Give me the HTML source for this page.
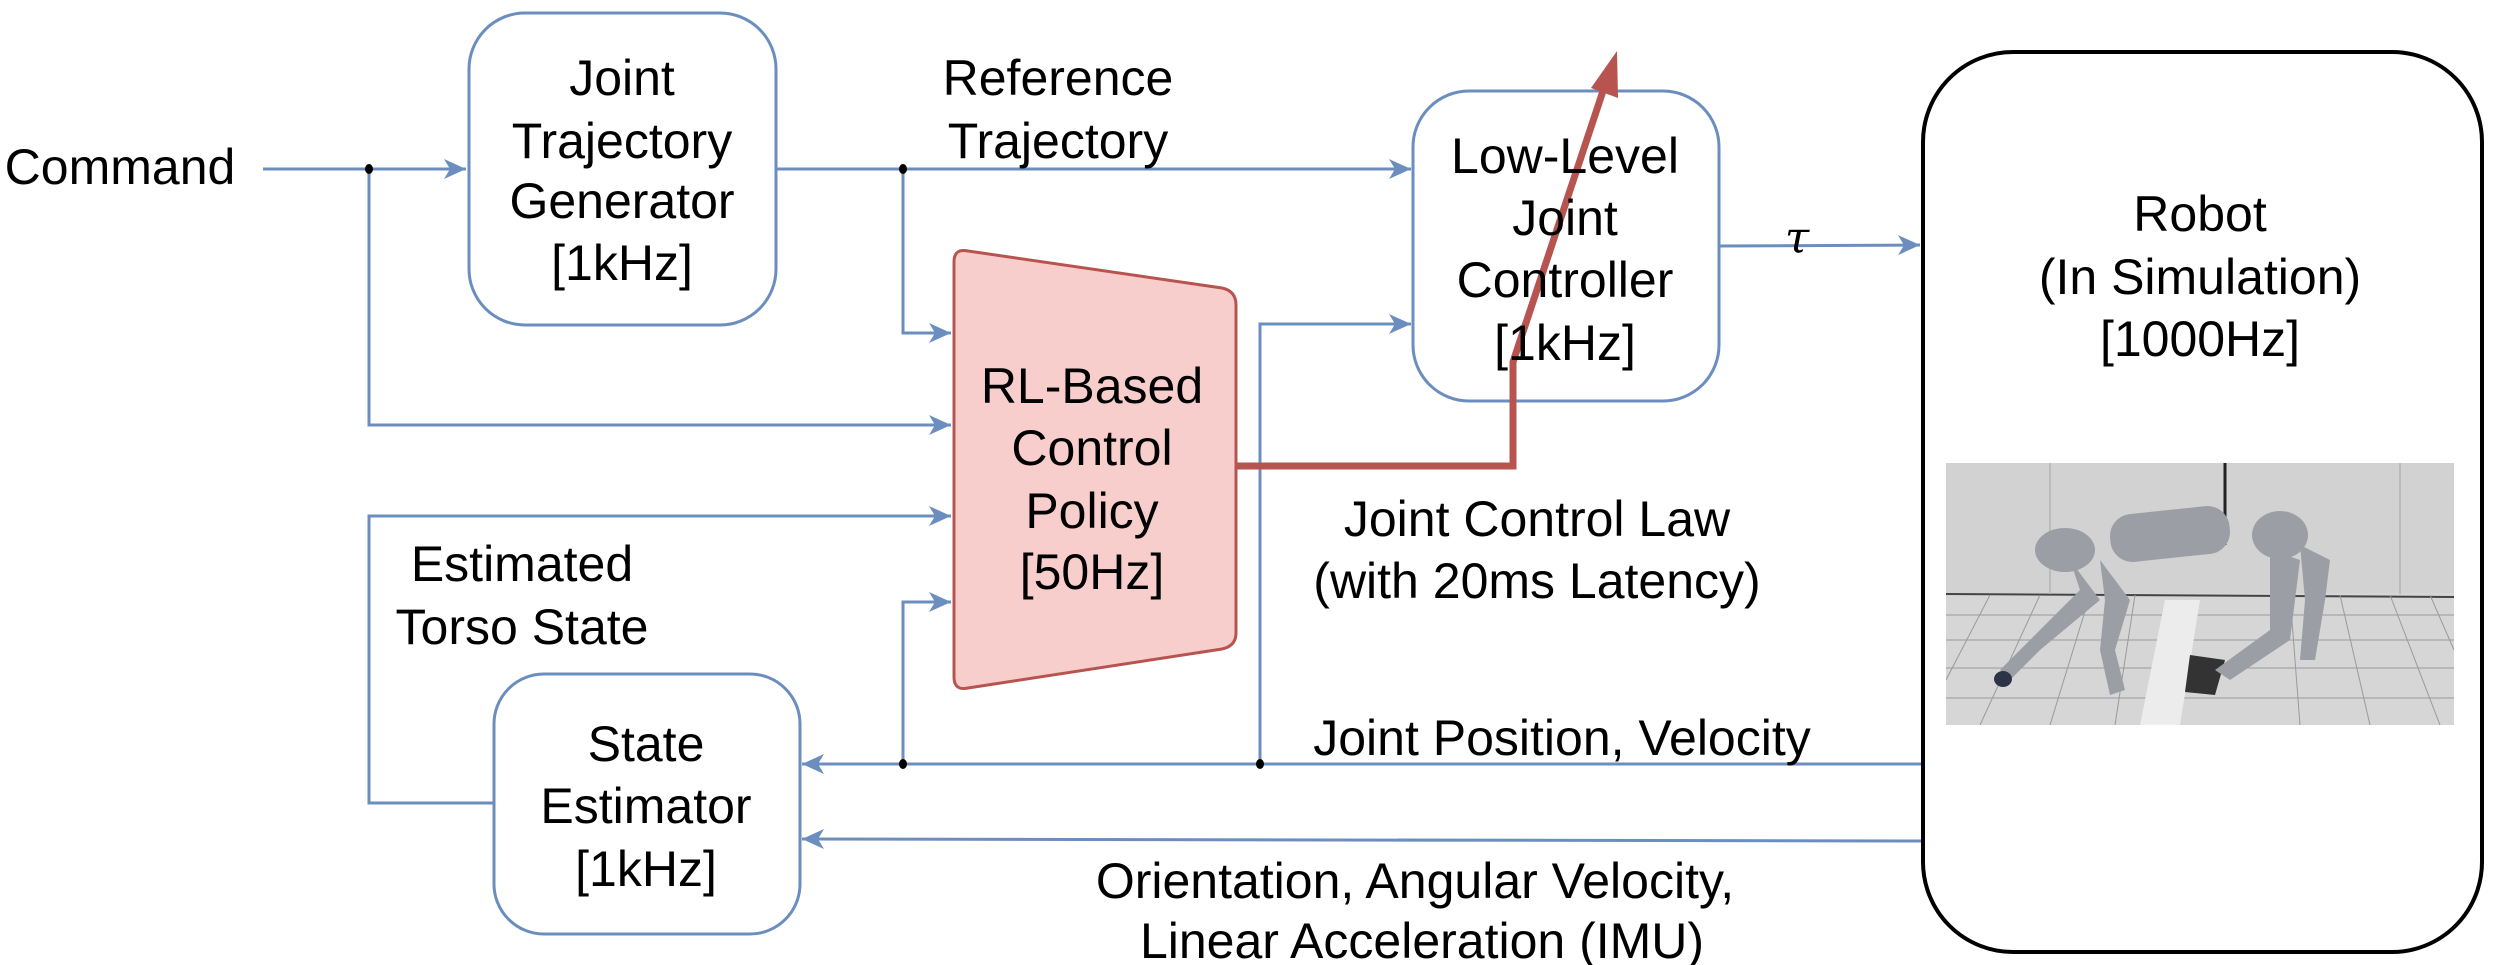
<!DOCTYPE html>
<html><head><meta charset="utf-8"><style>
html,body{margin:0;padding:0;background:#fff;}
svg{display:block;}
text{font-family:"Liberation Sans",Arial,sans-serif;font-size:50px;fill:#000;text-anchor:middle;dominant-baseline:central;}
</style></head><body>
<svg width="2505" height="965" viewBox="0 0 2505 965" xmlns="http://www.w3.org/2000/svg">
<defs>
<marker id="a" markerWidth="24" markerHeight="20" refX="22" refY="10" orient="auto" markerUnits="userSpaceOnUse">
<path d="M0,0 L22,10 L0,20 L6,10 Z" fill="#6c8ebf"/>
</marker>
<clipPath id="ic"><rect x="1946" y="463" width="508" height="262"/></clipPath>
</defs>
<g fill="none" stroke="#6c8ebf" stroke-width="3">
<!-- command -->
<path d="M263,169 L466,169" marker-end="url(#a)"/>
<path d="M369,169 L369,425 L951,425" marker-end="url(#a)"/>
<!-- ref traj -->
<path d="M777,169 L1411,169" marker-end="url(#a)"/>
<path d="M903,169 L903,333 L951,333" marker-end="url(#a)"/>
<!-- estimated torso -->
<path d="M494,803 L369,803 L369,516 L951,516" marker-end="url(#a)"/>
<!-- joint pos -->
<path d="M1922,764 L802,764" marker-end="url(#a)"/>
<path d="M903,764 L903,602 L951,602" marker-end="url(#a)"/>
<path d="M1260,764 L1260,324 L1411,324" marker-end="url(#a)"/>
<!-- imu -->
<path d="M1922,841 L802,839" marker-end="url(#a)"/>
<!-- tau -->
<path d="M1719,246 L1920,245" marker-end="url(#a)"/>
<!-- boxes -->
<rect x="469" y="13" width="307" height="312" rx="56" fill="#fff"/>
<rect x="494" y="674" width="306" height="260" rx="50" fill="#fff"/>
<rect x="1413" y="91" width="306" height="310" rx="56" fill="#fff"/>
</g>
<!-- dots -->
<g fill="#000">
<ellipse cx="369" cy="169" rx="4" ry="5"/>
<ellipse cx="903" cy="169" rx="4" ry="5"/>
<ellipse cx="903" cy="764" rx="4" ry="5"/>
<ellipse cx="1260" cy="764" rx="4" ry="5"/>
</g>
<!-- RL policy -->
<path d="M954,262 Q954,248 968,251 L1222,288 Q1236,291 1236,305 L1236,633 Q1236,646 1222,649 L968,688 Q954,691 954,677 Z" fill="#f8cecc" stroke="#b85450" stroke-width="3"/>
<!-- robot box -->
<rect x="1923" y="52" width="559" height="900" rx="90" fill="none" stroke="#000" stroke-width="4"/>
<!-- image -->
<g clip-path="url(#ic)">
<rect x="1946" y="463" width="508" height="262" fill="#d6d6d6"/>
<rect x="1946" y="463" width="508" height="130" fill="#d2d2d2"/>
<line x1="1946" y1="594" x2="2454" y2="597" stroke="#444" stroke-width="2"/>
<g stroke="#9a9a9a" stroke-width="1">
<line x1="1946" y1="615" x2="2454" y2="615"/><line x1="1946" y1="640" x2="2454" y2="640"/>
<line x1="1946" y1="668" x2="2454" y2="668"/><line x1="1946" y1="698" x2="2454" y2="698"/>
<line x1="1990" y1="595" x2="1946" y2="680"/><line x1="2040" y1="595" x2="1980" y2="725"/>
<line x1="2090" y1="595" x2="2050" y2="725"/><line x1="2135" y1="595" x2="2115" y2="725"/>
<line x1="2290" y1="595" x2="2300" y2="725"/><line x1="2340" y1="595" x2="2370" y2="725"/>
<line x1="2390" y1="595" x2="2440" y2="725"/><line x1="2430" y1="595" x2="2454" y2="650"/>
</g>
<line x1="2225" y1="463" x2="2225" y2="545" stroke="#222" stroke-width="3"/>
<line x1="2050" y1="463" x2="2050" y2="594" stroke="#bbb" stroke-width="2"/>
<line x1="2400" y1="463" x2="2400" y2="594" stroke="#bbb" stroke-width="2"/>
<polygon points="2165,600 2200,600 2180,725 2140,725" fill="#ececec"/>
<polygon points="2190,655 2225,660 2215,695 2185,692" fill="#333"/>
<g fill="#9c9ea6">
<rect x="2110" y="510" width="120" height="48" rx="22" transform="rotate(-6 2170 534)"/>
<ellipse cx="2065" cy="550" rx="30" ry="22"/>
<ellipse cx="2280" cy="535" rx="28" ry="24"/>
<path d="M2070,560 L2100,600 L2040,650 L2010,680 L2000,670 L2030,640 L2080,590 Z"/>
<path d="M2100,560 L2130,600 L2115,650 L2125,690 L2110,695 L2100,650 L2105,600 Z"/>
<path d="M2270,550 L2300,560 L2290,640 L2230,680 L2215,670 L2270,630 Z"/>
<path d="M2300,545 L2330,560 L2325,600 L2315,660 L2300,660 L2305,600 Z"/>
</g>
<ellipse cx="2003" cy="679" rx="9" ry="8" fill="#2d3447"/>
</g>
<!-- red policy line -->
<path d="M1236,466 L1513,466 L1513,362 L1605,85" fill="none" stroke="#b85450" stroke-width="7"/>
<polygon points="1617,51 1618,98 1591,88" fill="#b85450"/>
<!-- texts -->
<text x="120" y="167">Command</text>
<text x="622" y="78">Joint</text><text x="622" y="141">Trajectory</text><text x="622" y="201">Generator</text><text x="622" y="263">[1kHz]</text>
<text x="1058" y="78">Reference</text><text x="1058" y="141">Trajectory</text>
<text x="1092" y="386">RL-Based</text><text x="1092" y="448">Control</text><text x="1092" y="511">Policy</text><text x="1092" y="572">[50Hz]</text>
<text x="522" y="564">Estimated</text><text x="522" y="627">Torso State</text>
<text x="646" y="744">State</text><text x="646" y="806">Estimator</text><text x="646" y="869">[1kHz]</text>
<text x="1565" y="156">Low-Level</text><text x="1565" y="218">Joint</text><text x="1565" y="280">Controller</text><text x="1565" y="343">[1kHz]</text>
<text x="1797" y="238" style="font-family:'DejaVu Serif',serif;font-style:italic;font-size:44px">τ</text>
<text x="2200" y="214">Robot</text><text x="2200" y="277">(In Simulation)</text><text x="2200" y="339">[1000Hz]</text>
<text x="1537" y="519">Joint Control Law</text><text x="1537" y="581">(with 20ms Latency)</text>
<text x="1562" y="738">Joint Position, Velocity</text>
<text x="1415" y="881">Orientation, Angular Velocity,</text>
<text x="1422" y="941">Linear Acceleration (IMU)</text>
</svg>
</body></html>
